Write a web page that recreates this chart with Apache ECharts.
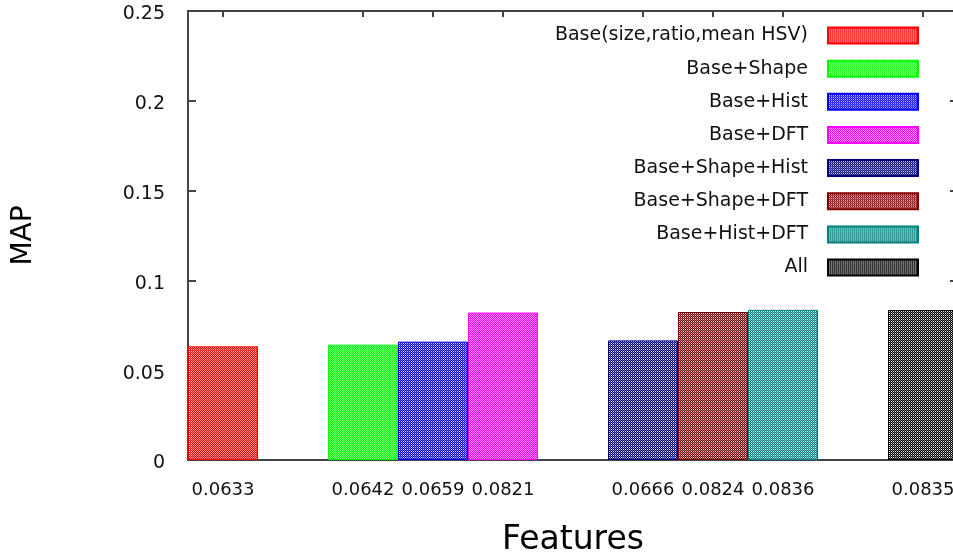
<!DOCTYPE html>
<html>
<head>
<meta charset="utf-8">
<script src="https://cdn.jsdelivr.net/npm/echarts@6/dist/echarts.min.js"></script>
<style>
html,body{margin:0;padding:0;background:#fff;}
#chart{width:953px;height:554px;}
</style>
</head>
<body>
<div id="chart"></div>
<script>
// ---- data ----
const seriesNames = ['Base(size,ratio,mean HSV)', 'Base+Shape', 'Base+Hist', 'Base+DFT',
  'Base+Shape+Hist', 'Base+Shape+DFT', 'Base+Hist+DFT', 'All'];
const seriesValues = [0.0633, 0.0642, 0.0659, 0.0821, 0.0666, 0.0824, 0.0836, 0.0835];
// x tick labels (blank entries are the empty slots between groups)
const xTickLabels = ['0.0633', ' ', '0.0642', '0.0659', '0.0821', '  ', '0.0666', '0.0824', '0.0836', '   ', '0.0835'];
const yTicks = [0, 0.05, 0.1, 0.15, 0.2, 0.25];
const seriesColors = ['#ff0000', '#00ff00', '#0000ff', '#ff00ff', '#000080', '#800000', '#008080', '#000000'];

function pattern(hex) {
  const c = document.createElement('canvas');
  c.width = 2; c.height = 2;
  const g = c.getContext('2d');
  g.fillStyle = hex; g.fillRect(0, 0, 2, 2);
  g.fillStyle = 'rgba(255,255,255,0.9)'; g.fillRect(1, 1, 1, 1);
  g.fillStyle = 'rgba(255,255,255,0.4)'; g.fillRect(0, 0, 1, 1);
  return { image: c, repeat: 'repeat' };
}

const FONT = 'DejaVu Sans';
const series = seriesNames.map((name, i) => {
  const idx = xTickLabels.indexOf(seriesValues[i].toFixed(4));
  const data = xTickLabels.map((_, j) => (j === idx ? seriesValues[i] : '-'));
  return {
    name: name,
    type: 'bar',
    stack: 'all',
    barWidth: '100%',
    data: data,
    itemStyle: { color: pattern(seriesColors[i]), borderColor: seriesColors[i], borderWidth: 1 },
    emphasis: { disabled: true },
    z: 3
  };
});

const tickShown = (index) => String(xTickLabels[index] || '').trim() !== '';
const axisCol = '#444';

const chart = echarts.init(document.getElementById('chart'), null, { renderer: 'canvas' });
chart.setOption({
  animation: false,
  backgroundColor: '#ffffff',
  grid: { left: 188, top: 11, width: 770, height: 449, containLabel: false, outerBoundsMode: 'none' },
  legend: {
    orient: 'vertical',
    align: 'right',
    right: 34,
    top: 26,
    padding: 0,
    icon: 'rect',
    itemWidth: 90,
    itemHeight: 16,
    itemGap: 14.15,
    selectedMode: false,
    textStyle: { fontFamily: FONT, fontSize: 19, lineHeight: 19, color: '#111', padding: [0, 15, 0, 0] },
    data: seriesNames
  },
  xAxis: [{
    type: 'category',
    data: xTickLabels,
    position: 'bottom',
    boundaryGap: true,
    axisLine: { onZero: false, lineStyle: { color: axisCol, width: 2 } },
    axisTick: { inside: true, length: 6, alignWithLabel: true, interval: tickShown, lineStyle: { color: axisCol, width: 2 } },
    axisLabel: { interval: 0, margin: 21, fontFamily: FONT, fontSize: 18, color: '#111' },
    name: 'Features',
    nameLocation: 'middle',
    nameGap: 64,
    nameTextStyle: { fontFamily: FONT, fontSize: 33, color: '#000' }
  }, {
    type: 'category',
    data: xTickLabels,
    position: 'top',
    boundaryGap: true,
    axisLine: { onZero: false, lineStyle: { color: axisCol, width: 2 } },
    axisTick: { show: true, inside: true, length: 6, alignWithLabel: true, interval: tickShown, lineStyle: { color: axisCol, width: 2 } },
    axisLabel: { show: false }
  }],
  yAxis: [{
    type: 'value',
    min: yTicks[0],
    max: yTicks[yTicks.length - 1],
    interval: yTicks[1] - yTicks[0],
    position: 'left',
    splitLine: { show: false },
    axisLine: { show: true, onZero: false, lineStyle: { color: axisCol, width: 2 } },
    axisTick: { show: true, inside: true, length: 8, lineStyle: { color: axisCol, width: 2 } },
    axisLabel: {
      margin: 23, fontFamily: FONT, fontSize: 19, color: '#111',
      formatter: (v) => '{a|' + v + '}',
      rich: { a: { fontFamily: FONT, fontSize: 19, color: '#111', padding: [7, 0, 0, 0] } }
    },
    name: 'MAP',
    nameLocation: 'middle',
    nameRotate: 90,
    nameGap: 150,
    nameTextStyle: { fontFamily: FONT, fontSize: 28, color: '#000' }
  }, {
    type: 'value',
    min: yTicks[0],
    max: yTicks[yTicks.length - 1],
    interval: yTicks[1] - yTicks[0],
    position: 'right',
    splitLine: { show: false },
    axisLine: { show: true, onZero: false, lineStyle: { color: axisCol, width: 2 } },
    axisTick: { show: true, inside: true, length: 8, lineStyle: { color: axisCol, width: 2 } },
    axisLabel: { show: false }
  }],
  series: series
});
</script>
</body>
</html>
